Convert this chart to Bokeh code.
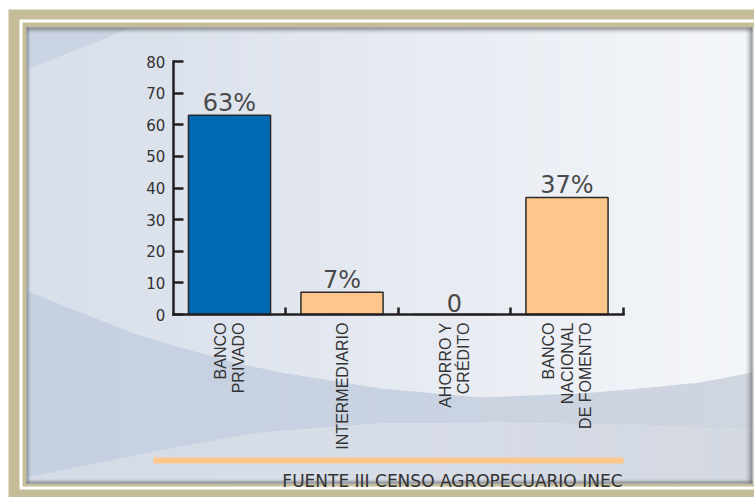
import numpy as np
from math import pi
from bokeh.plotting import figure
from bokeh.models import Range1d, LinearAxis, FixedTicker, ColumnDataSource
from bokeh.core.properties import value
from bokeh.embed import file_html
from bokeh.resources import INLINE

# ---------------- data ----------------
categories = ["BANCO\nPRIVADO", "INTERMEDIARIO", "AHORRO Y\nCRÉDITO", "BANCO\nNACIONAL\nDE FOMENTO"]
values = [63, 7, 0, 37]
value_labels = ["63%", "7%", "0", "37%"]
bar_colors = ["#0069b4", "#fdc68a", "#fdc68a", "#fdc68a"]
y_ticks = [0, 10, 20, 30, 40, 50, 60, 70, 80]
source_text = "FUENTE III CENSO AGROPECUARIO INEC"

# ---------------- layout ----------------
W, H = 754, 497
PX_PER_Y = 253 / 80.0
PX_PER_CAT = 112.5
X0_PX = 229.0
Y0_PX = 314.0

x_start = -X0_PX / PX_PER_CAT
x_end = (W - X0_PX) / PX_PER_CAT
y_start = -(H - Y0_PX) / PX_PER_Y
y_end = Y0_PX / PX_PER_Y

p = figure(width=W, height=H, x_range=Range1d(x_start, x_end), y_range=Range1d(y_start, y_end),
           output_backend="svg", toolbar_location=None, min_border=0,
           x_axis_type=None, y_axis_type=None)
p.extra_x_ranges = {"px": Range1d(0, W)}
p.extra_y_ranges = {"px": Range1d(H, 0)}
p.outline_line_color = None
p.background_fill_color = "white"
p.border_fill_color = "white"
p.xgrid.visible = False
p.ygrid.visible = False

PX = dict(x_range_name="px", y_range_name="px")


def hex2rgb(h):
    h = h.lstrip("#")
    return np.array([int(h[i:i + 2], 16) for i in (0, 2, 4)], dtype=float)


def grad(stops, xs):
    sx = [s[0] for s in stops]
    cols = np.array([hex2rgb(s[1]) for s in stops])
    out = []
    for x in xs:
        c = [np.interp(x, sx, cols[:, k]) for k in range(3)]
        out.append("#%02x%02x%02x" % tuple(int(round(v)) for v in c))
    return out


def quad(l, r, t, b, color, alpha=1.0):
    p.quad(left=l, right=r, top=t, bottom=b, fill_color=color, fill_alpha=alpha,
           line_color=None, **PX)


# frame
quad(8, 754, 9, 497, "#c5bd99")
quad(19, 760, 19, 489, "#ffffff")
quad(22, 760, 22, 486, "#c5bd99")

# panel base gradient
L, R, T, B = 26, 752, 27, 483
n = 80
edges = np.linspace(L, R, n + 1)
mids = (edges[:-1] + edges[1:]) / 2
base_cols = grad([(26, "#d8dfea"), (200, "#dde3ed"), (400, "#e6eaf1"), (600, "#eef1f6"), (752, "#f4f6f9")], mids)
p.quad(left=edges[:-1], right=edges[1:] + 1, top=[T] * n, bottom=[B] * n,
       fill_color=base_cols, line_color=None, **PX)

# top-left wedge
p.patch(x=[26, 132, 26], y=[27, 27, 69], fill_color="#cbd4e2", line_color=None, **PX)

# wave band
up_x = [26, 50, 133, 180, 233, 280, 380, 480, 580, 640, 700, 752]
up_y = [290, 300, 333, 347, 362, 372, 388, 397, 393, 388, 382, 372]
lo_x = [26, 180, 260, 380, 500, 640, 752]
lo_y = [477, 446, 432, 423, 422, 425, 430]
band_cols = grad([(26, "#c5d0e1"), (400, "#c9d2e1"), (752, "#d0d6e0")], mids)
low_cols = grad([(26, "#d6dce7"), (400, "#d7dde7"), (752, "#d3d8e1")], mids)
bxs, bys, lxs, lys = [], [], [], []
for i in range(n):
    x0, x1 = edges[i], min(edges[i + 1] + 1, R)
    u0, u1 = np.interp(x0, up_x, up_y), np.interp(x1, up_x, up_y)
    l0, l1 = np.interp(x0, lo_x, lo_y), np.interp(x1, lo_x, lo_y)
    bxs.append([x0, x1, x1, x0]); bys.append([u0, u1, l1, l0])
    lxs.append([x0, x1, x1, x0]); lys.append([l0, l1, B, B])
p.patches(xs=bxs, ys=bys, fill_color=band_cols, line_color=None, **PX)
p.patches(xs=lxs, ys=lys, fill_color=low_cols, line_color=None, **PX)

# inner shadows
sh = "#6a6c72"
for i, a in enumerate([0.85, 0.6, 0.4, 0.25, 0.13, 0.06]):
    quad(L, R, T + i, T + i + 1, sh, a)
for i, a in enumerate([0.7, 0.45, 0.25, 0.1]):
    quad(L + i, L + i + 1, T, B, sh, a)
for i, a in enumerate([0.85, 0.65, 0.45, 0.3, 0.18, 0.1, 0.05]):
    quad(R - i - 1, R - i, T, B, sh, a)
for i, a in enumerate([0.85, 0.55, 0.3, 0.12]):
    quad(L, R, B - i - 1, B - i, sh, a)

# ---------------- chart ----------------
src = ColumnDataSource(dict(x=list(range(len(values))), top=values, color=bar_colors, label=value_labels))
p.vbar(x="x", top="top", bottom=0, width=0.73, fill_color="color", line_color="#2b2b2b",
       line_width=1.5, source=src)
p.text(x="x", y="top", text="label", source=src, text_align="center", text_baseline="alphabetic",
       y_offset=-12, text_font=value("DejaVu Sans"), text_font_size="24px", text_color="#4a4a4a")

axis_col = "#231f20"
yaxis = LinearAxis(fixed_location=-0.5, ticker=FixedTicker(ticks=y_ticks), bounds=(0, 80),
                   axis_line_width=2.5, axis_line_color=axis_col, axis_line_cap="square",
                   major_tick_in=10, major_tick_out=0, major_tick_line_width=2.5,
                   major_tick_line_color=axis_col, minor_tick_line_color=None,
                   major_label_standoff=8, major_label_text_font="DejaVu Sans",
                   major_label_text_font_size="15px", major_label_text_color="#333333")
p.add_layout(yaxis, "left")

xaxis = LinearAxis(fixed_location=0,
                   ticker=FixedTicker(ticks=list(range(len(categories))),
                                      minor_ticks=[i + 0.5 for i in range(len(categories))]),
                   bounds=(-0.5, len(categories) - 0.5),
                   major_label_overrides={i: c for i, c in enumerate(categories)},
                   major_label_orientation=pi / 2,
                   axis_line_width=2.5, axis_line_color=axis_col, axis_line_cap="square",
                   major_tick_in=0, major_tick_out=0, major_tick_line_color=None,
                   minor_tick_in=7, minor_tick_out=0, minor_tick_line_width=2.5,
                   minor_tick_line_color=axis_col,
                   major_label_standoff=8, major_label_text_font="Liberation Sans",
                   major_label_text_font_size="16px", major_label_text_color="#333333",
                   major_label_text_line_height=1.1)
p.add_layout(xaxis, "below")

# source line and text
quad(153, 623, 457, 463, "#fdc68a")
p.text(x=[622], y=[480], text=[source_text], text_align="right", text_baseline="alphabetic",
       text_font=value("DejaVu Sans"), text_font_size="17px", text_color="#333333", **PX)

open("out.html", "w").write(file_html(p, INLINE))
